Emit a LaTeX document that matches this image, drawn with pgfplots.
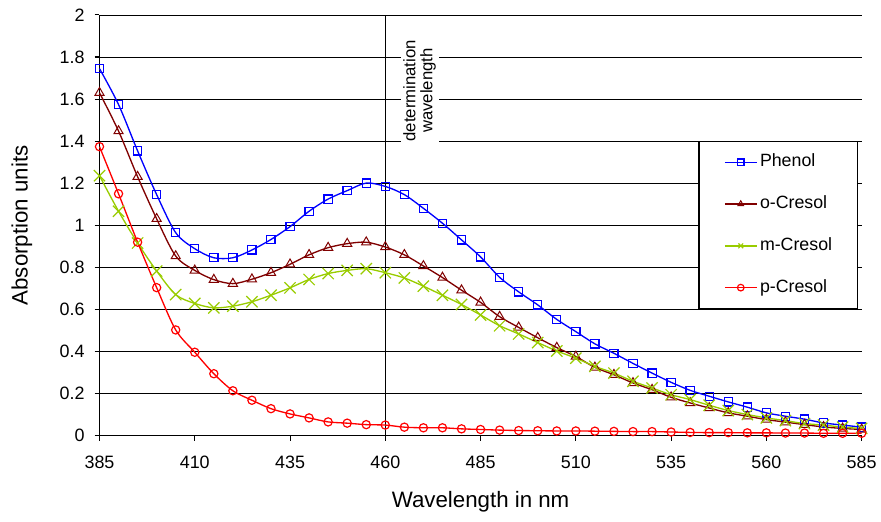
\documentclass[border=0pt]{standalone}
\usepackage{fontspec}
\setmainfont{Liberation Sans}
\usepackage{pgfplots}
\pgfplotsset{compat=1.18}
\usepackage{pgfplotstable}

\definecolor{phenol}{RGB}{0,0,255}
\definecolor{ocres}{RGB}{128,0,0}
\definecolor{mcres}{RGB}{153,204,0}
\definecolor{pcres}{RGB}{255,0,0}

% absorption spectra
\pgfplotstableread{
wl   phenol ocresol mcresol pcresol
385  1.745  1.630   1.236   1.374
390  1.574  1.448   1.067   1.150
395  1.354  1.231   0.916   0.920
400  1.146  1.031   0.783   0.704
405  0.965  0.854   0.671   0.503
410  0.889  0.786   0.629   0.397
415  0.846  0.742   0.608   0.295
420  0.846  0.723   0.616   0.214
425  0.883  0.744   0.637   0.169
430  0.933  0.775   0.668   0.129
435  0.994  0.815   0.703   0.104
440  1.067  0.860   0.743   0.085
445  1.125  0.894   0.771   0.066
450  1.165  0.913   0.786   0.060
455  1.201  0.920   0.794   0.053
460  1.185  0.897   0.775   0.051
465  1.146  0.860   0.750   0.041
470  1.081  0.807   0.711   0.038
475  1.010  0.752   0.668   0.038
480  0.931  0.692   0.624   0.033
485  0.850  0.634   0.574   0.030
490  0.753  0.566   0.523   0.027
495  0.684  0.515   0.484   0.025
500  0.622  0.466   0.443   0.024
505  0.553  0.419   0.403   0.023
510  0.495  0.377   0.369   0.023
515  0.437  0.325   0.330   0.022
520  0.392  0.290   0.298   0.021
525  0.344  0.251   0.259   0.020
530  0.298  0.219   0.227   0.020
535  0.254  0.183   0.195   0.018
540  0.216  0.156   0.172   0.016
545  0.188  0.132   0.145   0.015
550  0.161  0.109   0.120   0.015
555  0.136  0.093   0.101   0.014
560  0.109  0.077   0.085   0.014
565  0.093  0.065   0.072   0.013
570  0.079  0.053   0.058   0.013
575  0.061  0.042   0.051   0.012
580  0.051  0.035   0.041   0.012
585  0.041  0.030   0.035   0.012
}\spectra

\begin{document}
\begin{tikzpicture}
\begin{axis}[
    scale only axis,
    width=574.5pt,
    height=317.25pt,
    xmin=385, xmax=585,
    ymin=0, ymax=2,
    xtick={385,410,...,585},
    ytick={0,0.2,...,2},
    axis x line=bottom,
    axis y line=left,
    axis line style={-, line width=0.8pt},
    tick align=outside,
    major tick length=3.75pt,
    tick style={black, line width=0.8pt},
    ymajorgrids,
    grid style={black, line width=0.6pt},
    clip=false,
    /pgf/number format/assume math mode=true,
    ticklabel style={font=\fontsize{13.5}{14}\selectfont},
    yticklabel style={xshift=-4pt, /pgf/number format/.cd, fixed, precision=1},
    xticklabel style={yshift=-8pt, /pgf/number format/.cd, 1000 sep={}},
    xlabel={Wavelength in nm},
    ylabel={Absorption units},
    label style={font=\fontsize{16.8}{18}\selectfont},
    xlabel style={at={(axis description cs:0.5,-0.156)}, anchor=center},
    ylabel style={at={(axis description cs:-0.102,0.5)}, anchor=center},
    legend style={
        at={(axis description cs:0.995,0.70)}, anchor=north east,
        draw=black, line width=0.8pt, fill=white,
        inner xsep=19pt, inner ysep=9pt,
        row sep=18.5pt, column sep=2pt,
        font=\fontsize{13.4}{14}\selectfont,
        nodes={inner sep=0pt, text height=10pt, text depth=3pt},
    },
    legend cell align=left,
    legend image code/.code={
        \draw[mark repeat=2, mark phase=2, mark size=2.5pt]
            plot coordinates {(0pt,0pt) (12pt,0pt) (24pt,0pt)};
    },
    every axis plot/.append style={line width=1pt, smooth, tension=0.5},
]
    \draw[black, line width=0.8pt] (axis cs:460,0) -- (axis cs:460,2);
    \node[rotate=90, fill=white, align=center, inner sep=2pt,
          font=\fontsize{12.6}{12.8}\selectfont] at (axis cs:469,1.64)
          {determination\\wavelength};

    \addplot[phenol, mark=square, mark size=3.1pt, mark options={solid, line width=0.9pt}]
        table[x=wl, y=phenol] {\spectra};
    \addplot[ocres, mark=triangle, mark size=4pt, mark options={solid, line width=0.75pt}]
        table[x=wl, y=ocresol] {\spectra};
    \addplot[mcres, mark=x, mark size=6pt, mark options={solid, line width=0.9pt}]
        table[x=wl, y=mcresol] {\spectra};
    \addplot[pcres, mark=o, mark size=3.1pt, mark options={solid, line width=0.9pt}]
        table[x=wl, y=pcresol] {\spectra};
    \legend{Phenol, o-Cresol, m-Cresol, p-Cresol}
\end{axis}
\path ([shift={(-75pt,-64.5pt)}]current axis.south west)
      rectangle ([shift={(11.25pt,11.25pt)}]current axis.north east);
\end{tikzpicture}
\end{document}
